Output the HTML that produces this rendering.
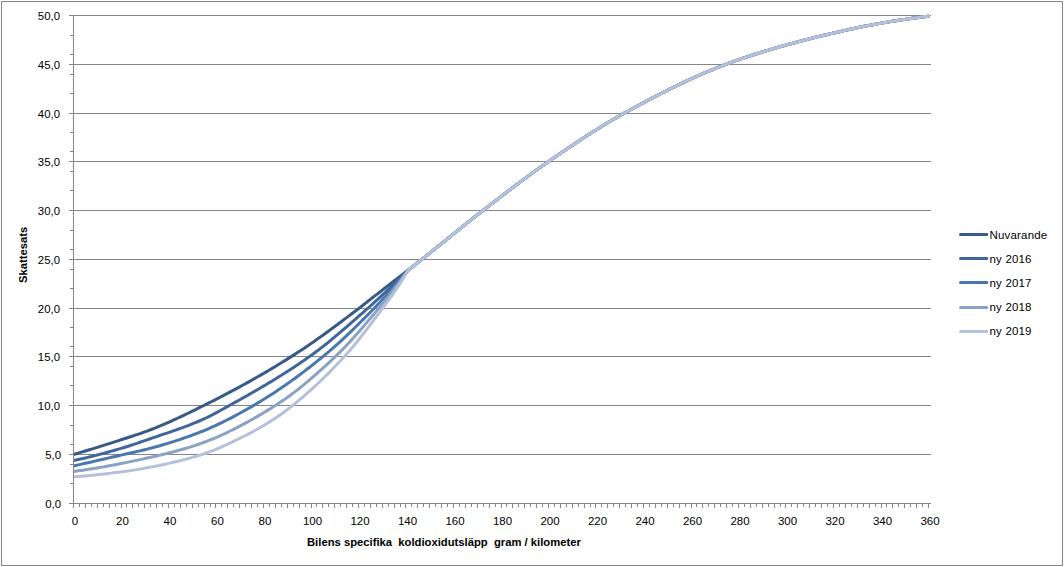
<!DOCTYPE html>
<html><head><meta charset="utf-8"><style>
html,body{margin:0;padding:0;background:#fff;}
body{width:1064px;height:567px;position:relative;overflow:hidden;font-family:"Liberation Sans",sans-serif;color:#000;}
svg{position:absolute;left:0;top:0;}
.yl{position:absolute;left:0;width:60px;text-align:right;font-size:11.4px;line-height:15px;height:15px;white-space:nowrap;}
.xl{position:absolute;top:514px;width:60px;text-align:center;font-size:11.5px;line-height:15px;white-space:nowrap;}
.lg{position:absolute;left:989.5px;font-size:11.5px;letter-spacing:0.18px;line-height:15px;white-space:nowrap;}
.xt{position:absolute;left:307px;top:535px;font-size:11.25px;font-weight:bold;line-height:15px;white-space:pre;}
.yt{position:absolute;left:17.1px;top:255.7px;font-size:11.25px;font-weight:bold;line-height:13px;white-space:nowrap;transform-origin:0 0;}
</style></head><body>
<svg width="1064" height="567" viewBox="0 0 1064 567">
<rect x="1.5" y="1.5" width="1061" height="564" fill="#fff" stroke="#868686" stroke-width="1"/>
<g stroke="#868686" stroke-width="1" shape-rendering="crispEdges"><line x1="69" y1="503.5" x2="931" y2="503.5"/><line x1="69" y1="454.5" x2="931" y2="454.5"/><line x1="69" y1="405.5" x2="931" y2="405.5"/><line x1="69" y1="356.5" x2="931" y2="356.5"/><line x1="69" y1="308.5" x2="931" y2="308.5"/><line x1="69" y1="259.5" x2="931" y2="259.5"/><line x1="69" y1="210.5" x2="931" y2="210.5"/><line x1="69" y1="161.5" x2="931" y2="161.5"/><line x1="69" y1="113.5" x2="931" y2="113.5"/><line x1="69" y1="64.5" x2="931" y2="64.5"/><line x1="69" y1="15.5" x2="931" y2="15.5"/>
<line x1="73.5" y1="15" x2="73.5" y2="508"/>
<line x1="70" y1="483.5" x2="73" y2="483.5"/><line x1="70" y1="464.5" x2="73" y2="464.5"/><line x1="70" y1="444.5" x2="73" y2="444.5"/><line x1="70" y1="425.5" x2="73" y2="425.5"/><line x1="70" y1="385.5" x2="73" y2="385.5"/><line x1="70" y1="366.5" x2="73" y2="366.5"/><line x1="70" y1="346.5" x2="73" y2="346.5"/><line x1="70" y1="327.5" x2="73" y2="327.5"/><line x1="70" y1="288.5" x2="73" y2="288.5"/><line x1="70" y1="269.5" x2="73" y2="269.5"/><line x1="70" y1="249.5" x2="73" y2="249.5"/><line x1="70" y1="230.5" x2="73" y2="230.5"/><line x1="70" y1="190.5" x2="73" y2="190.5"/><line x1="70" y1="171.5" x2="73" y2="171.5"/><line x1="70" y1="151.5" x2="73" y2="151.5"/><line x1="70" y1="132.5" x2="73" y2="132.5"/><line x1="70" y1="93.5" x2="73" y2="93.5"/><line x1="70" y1="74.5" x2="73" y2="74.5"/><line x1="70" y1="54.5" x2="73" y2="54.5"/><line x1="70" y1="35.5" x2="73" y2="35.5"/><line x1="73.5" y1="504" x2="73.5" y2="508"/><line x1="79.5" y1="504" x2="79.5" y2="507"/><line x1="85.5" y1="504" x2="85.5" y2="508"/><line x1="91.5" y1="504" x2="91.5" y2="507"/><line x1="97.5" y1="504" x2="97.5" y2="508"/><line x1="103.5" y1="504" x2="103.5" y2="507"/><line x1="109.5" y1="504" x2="109.5" y2="508"/><line x1="115.5" y1="504" x2="115.5" y2="507"/><line x1="121.5" y1="504" x2="121.5" y2="508"/><line x1="126.5" y1="504" x2="126.5" y2="507"/><line x1="132.5" y1="504" x2="132.5" y2="508"/><line x1="138.5" y1="504" x2="138.5" y2="507"/><line x1="144.5" y1="504" x2="144.5" y2="508"/><line x1="150.5" y1="504" x2="150.5" y2="507"/><line x1="156.5" y1="504" x2="156.5" y2="508"/><line x1="162.5" y1="504" x2="162.5" y2="507"/><line x1="168.5" y1="504" x2="168.5" y2="508"/><line x1="174.5" y1="504" x2="174.5" y2="507"/><line x1="180.5" y1="504" x2="180.5" y2="508"/><line x1="186.5" y1="504" x2="186.5" y2="507"/><line x1="192.5" y1="504" x2="192.5" y2="508"/><line x1="198.5" y1="504" x2="198.5" y2="507"/><line x1="204.5" y1="504" x2="204.5" y2="508"/><line x1="210.5" y1="504" x2="210.5" y2="507"/><line x1="215.5" y1="504" x2="215.5" y2="508"/><line x1="221.5" y1="504" x2="221.5" y2="507"/><line x1="227.5" y1="504" x2="227.5" y2="508"/><line x1="233.5" y1="504" x2="233.5" y2="507"/><line x1="239.5" y1="504" x2="239.5" y2="508"/><line x1="245.5" y1="504" x2="245.5" y2="507"/><line x1="251.5" y1="504" x2="251.5" y2="508"/><line x1="257.5" y1="504" x2="257.5" y2="507"/><line x1="263.5" y1="504" x2="263.5" y2="508"/><line x1="269.5" y1="504" x2="269.5" y2="507"/><line x1="275.5" y1="504" x2="275.5" y2="508"/><line x1="281.5" y1="504" x2="281.5" y2="507"/><line x1="287.5" y1="504" x2="287.5" y2="508"/><line x1="293.5" y1="504" x2="293.5" y2="507"/><line x1="299.5" y1="504" x2="299.5" y2="508"/><line x1="305.5" y1="504" x2="305.5" y2="507"/><line x1="311.5" y1="504" x2="311.5" y2="508"/><line x1="316.5" y1="504" x2="316.5" y2="507"/><line x1="322.5" y1="504" x2="322.5" y2="508"/><line x1="328.5" y1="504" x2="328.5" y2="507"/><line x1="334.5" y1="504" x2="334.5" y2="508"/><line x1="340.5" y1="504" x2="340.5" y2="507"/><line x1="346.5" y1="504" x2="346.5" y2="508"/><line x1="352.5" y1="504" x2="352.5" y2="507"/><line x1="358.5" y1="504" x2="358.5" y2="508"/><line x1="364.5" y1="504" x2="364.5" y2="507"/><line x1="370.5" y1="504" x2="370.5" y2="508"/><line x1="376.5" y1="504" x2="376.5" y2="507"/><line x1="382.5" y1="504" x2="382.5" y2="508"/><line x1="388.5" y1="504" x2="388.5" y2="507"/><line x1="394.5" y1="504" x2="394.5" y2="508"/><line x1="400.5" y1="504" x2="400.5" y2="507"/><line x1="405.5" y1="504" x2="405.5" y2="508"/><line x1="411.5" y1="504" x2="411.5" y2="507"/><line x1="417.5" y1="504" x2="417.5" y2="508"/><line x1="423.5" y1="504" x2="423.5" y2="507"/><line x1="429.5" y1="504" x2="429.5" y2="508"/><line x1="435.5" y1="504" x2="435.5" y2="507"/><line x1="441.5" y1="504" x2="441.5" y2="508"/><line x1="447.5" y1="504" x2="447.5" y2="507"/><line x1="453.5" y1="504" x2="453.5" y2="508"/><line x1="459.5" y1="504" x2="459.5" y2="507"/><line x1="465.5" y1="504" x2="465.5" y2="508"/><line x1="471.5" y1="504" x2="471.5" y2="507"/><line x1="477.5" y1="504" x2="477.5" y2="508"/><line x1="483.5" y1="504" x2="483.5" y2="507"/><line x1="489.5" y1="504" x2="489.5" y2="508"/><line x1="495.5" y1="504" x2="495.5" y2="507"/><line x1="501.5" y1="504" x2="501.5" y2="508"/><line x1="506.5" y1="504" x2="506.5" y2="507"/><line x1="512.5" y1="504" x2="512.5" y2="508"/><line x1="518.5" y1="504" x2="518.5" y2="507"/><line x1="524.5" y1="504" x2="524.5" y2="508"/><line x1="530.5" y1="504" x2="530.5" y2="507"/><line x1="536.5" y1="504" x2="536.5" y2="508"/><line x1="542.5" y1="504" x2="542.5" y2="507"/><line x1="548.5" y1="504" x2="548.5" y2="508"/><line x1="554.5" y1="504" x2="554.5" y2="507"/><line x1="560.5" y1="504" x2="560.5" y2="508"/><line x1="566.5" y1="504" x2="566.5" y2="507"/><line x1="572.5" y1="504" x2="572.5" y2="508"/><line x1="578.5" y1="504" x2="578.5" y2="507"/><line x1="584.5" y1="504" x2="584.5" y2="508"/><line x1="590.5" y1="504" x2="590.5" y2="507"/><line x1="595.5" y1="504" x2="595.5" y2="508"/><line x1="601.5" y1="504" x2="601.5" y2="507"/><line x1="607.5" y1="504" x2="607.5" y2="508"/><line x1="613.5" y1="504" x2="613.5" y2="507"/><line x1="619.5" y1="504" x2="619.5" y2="508"/><line x1="625.5" y1="504" x2="625.5" y2="507"/><line x1="631.5" y1="504" x2="631.5" y2="508"/><line x1="637.5" y1="504" x2="637.5" y2="507"/><line x1="643.5" y1="504" x2="643.5" y2="508"/><line x1="649.5" y1="504" x2="649.5" y2="507"/><line x1="655.5" y1="504" x2="655.5" y2="508"/><line x1="661.5" y1="504" x2="661.5" y2="507"/><line x1="667.5" y1="504" x2="667.5" y2="508"/><line x1="673.5" y1="504" x2="673.5" y2="507"/><line x1="679.5" y1="504" x2="679.5" y2="508"/><line x1="685.5" y1="504" x2="685.5" y2="507"/><line x1="691.5" y1="504" x2="691.5" y2="508"/><line x1="696.5" y1="504" x2="696.5" y2="507"/><line x1="702.5" y1="504" x2="702.5" y2="508"/><line x1="708.5" y1="504" x2="708.5" y2="507"/><line x1="714.5" y1="504" x2="714.5" y2="508"/><line x1="720.5" y1="504" x2="720.5" y2="507"/><line x1="726.5" y1="504" x2="726.5" y2="508"/><line x1="732.5" y1="504" x2="732.5" y2="507"/><line x1="738.5" y1="504" x2="738.5" y2="508"/><line x1="744.5" y1="504" x2="744.5" y2="507"/><line x1="750.5" y1="504" x2="750.5" y2="508"/><line x1="756.5" y1="504" x2="756.5" y2="507"/><line x1="762.5" y1="504" x2="762.5" y2="508"/><line x1="768.5" y1="504" x2="768.5" y2="507"/><line x1="774.5" y1="504" x2="774.5" y2="508"/><line x1="780.5" y1="504" x2="780.5" y2="507"/><line x1="785.5" y1="504" x2="785.5" y2="508"/><line x1="791.5" y1="504" x2="791.5" y2="507"/><line x1="797.5" y1="504" x2="797.5" y2="508"/><line x1="803.5" y1="504" x2="803.5" y2="507"/><line x1="809.5" y1="504" x2="809.5" y2="508"/><line x1="815.5" y1="504" x2="815.5" y2="507"/><line x1="821.5" y1="504" x2="821.5" y2="508"/><line x1="827.5" y1="504" x2="827.5" y2="507"/><line x1="833.5" y1="504" x2="833.5" y2="508"/><line x1="839.5" y1="504" x2="839.5" y2="507"/><line x1="845.5" y1="504" x2="845.5" y2="508"/><line x1="851.5" y1="504" x2="851.5" y2="507"/><line x1="857.5" y1="504" x2="857.5" y2="508"/><line x1="863.5" y1="504" x2="863.5" y2="507"/><line x1="869.5" y1="504" x2="869.5" y2="508"/><line x1="875.5" y1="504" x2="875.5" y2="507"/><line x1="881.5" y1="504" x2="881.5" y2="508"/><line x1="886.5" y1="504" x2="886.5" y2="507"/><line x1="892.5" y1="504" x2="892.5" y2="508"/><line x1="898.5" y1="504" x2="898.5" y2="507"/><line x1="904.5" y1="504" x2="904.5" y2="508"/><line x1="910.5" y1="504" x2="910.5" y2="507"/><line x1="916.5" y1="504" x2="916.5" y2="508"/><line x1="922.5" y1="504" x2="922.5" y2="507"/><line x1="928.5" y1="504" x2="928.5" y2="508"/></g>
<defs><clipPath id="pc"><rect x="74" y="0" width="990" height="567"/></clipPath></defs>
<g fill="none" stroke-width="3" stroke-linejoin="round" stroke-linecap="round" clip-path="url(#pc)">
<path d="M73.50,454.50 L75.88,453.80 L78.25,453.11 L80.62,452.40 L83.00,451.69 L85.38,450.98 L87.75,450.26 L90.12,449.54 L92.50,448.81 L94.88,448.08 L97.25,447.34 L99.62,446.61 L102.00,445.86 L104.38,445.12 L106.75,444.37 L109.12,443.61 L111.50,442.86 L113.88,442.10 L116.25,441.33 L118.62,440.57 L121.00,439.80 L123.38,439.03 L125.75,438.27 L128.12,437.50 L130.50,436.74 L132.88,435.97 L135.25,435.19 L137.62,434.40 L140.00,433.59 L142.38,432.77 L144.75,431.93 L147.12,431.07 L149.50,430.18 L151.88,429.27 L154.25,428.33 L156.62,427.38 L159.00,426.40 L161.38,425.41 L163.75,424.40 L166.12,423.37 L168.50,422.32 L170.88,421.27 L173.25,420.19 L175.62,419.11 L178.00,418.01 L180.38,416.90 L182.75,415.78 L185.12,414.65 L187.50,413.50 L189.88,412.36 L192.25,411.20 L194.62,410.04 L197.00,408.87 L199.38,407.69 L201.75,406.52 L204.12,405.33 L206.50,404.15 L208.88,402.96 L211.25,401.76 L213.62,400.55 L216.00,399.34 L218.38,398.12 L220.75,396.90 L223.12,395.66 L225.50,394.42 L227.88,393.18 L230.25,391.92 L232.62,390.66 L235.00,389.39 L237.38,388.11 L239.75,386.82 L242.12,385.53 L244.50,384.22 L246.88,382.91 L249.25,381.59 L251.62,380.26 L254.00,378.92 L256.38,377.57 L258.75,376.22 L261.12,374.85 L263.50,373.47 L265.88,372.08 L268.25,370.69 L270.62,369.28 L273.00,367.86 L275.38,366.43 L277.75,364.99 L280.12,363.54 L282.50,362.08 L284.88,360.61 L287.25,359.12 L289.62,357.63 L292.00,356.13 L294.38,354.63 L296.75,353.11 L299.12,351.57 L301.50,350.01 L303.88,348.43 L306.25,346.83 L308.62,345.21 L311.00,343.57 L313.38,341.92 L315.75,340.25 L318.12,338.57 L320.50,336.87 L322.88,335.16 L325.25,333.45 L327.62,331.72 L330.00,329.98 L332.38,328.23 L334.75,326.48 L337.12,324.72 L339.50,322.95 L341.88,321.18 L344.25,319.40 L346.62,317.63 L349.00,315.85 L351.38,314.07 L353.75,312.29 L356.12,310.51 L358.50,308.73 L360.88,306.91 L363.25,305.05 L365.62,303.16 L368.00,301.27 L370.38,299.38 L372.75,297.51 L375.12,295.66 L377.50,293.81 L379.88,291.96 L382.25,290.11 L384.62,288.26 L387.00,286.42 L389.38,284.58 L391.75,282.74 L394.12,280.91 L396.50,279.08 L398.88,277.25 L401.25,275.43 L403.62,273.61 L406.00,271.80 L408.38,269.99 L410.75,268.12 L413.12,266.25 L415.50,264.38 L417.88,262.51 L420.25,260.63 L422.62,258.75 L425.00,256.86 L427.38,254.96 L429.75,253.06 L432.12,251.15 L434.50,249.24 L436.88,247.33 L439.25,245.41 L441.62,243.49 L444.00,241.57 L446.38,239.65 L448.75,237.73 L451.12,235.81 L453.50,233.89 L455.88,231.97 L458.25,230.06 L460.62,228.15 L463.00,226.24 L465.38,224.34 L467.75,222.45 L470.12,220.56 L472.50,218.68 L474.88,216.80 L477.25,214.94 L479.62,213.08 L482.00,211.24 L484.38,209.40 L486.75,207.56 L489.12,205.73 L491.50,203.89 L493.88,202.06 L496.25,200.23 L498.62,198.41 L501.00,196.58 L503.38,194.76 L505.75,192.95 L508.12,191.14 L510.50,189.33 L512.88,187.53 L515.25,185.73 L517.62,183.95 L520.00,182.17 L522.38,180.39 L524.75,178.63 L527.12,176.87 L529.50,175.12 L531.88,173.38 L534.25,171.65 L536.62,169.93 L539.00,168.22 L541.38,166.52 L543.75,164.84 L546.12,163.16 L548.50,161.50 L550.88,159.88 L553.25,158.26 L555.62,156.64 L558.00,155.02 L560.38,153.41 L562.75,151.79 L565.12,150.18 L567.50,148.58 L569.88,146.98 L572.25,145.39 L574.62,143.80 L577.00,142.22 L579.38,140.65 L581.75,139.09 L584.12,137.53 L586.50,135.99 L588.88,134.45 L591.25,132.93 L593.62,131.42 L596.00,129.92 L598.38,128.43 L600.75,126.96 L603.12,125.50 L605.50,124.05 L607.88,122.63 L610.25,121.21 L612.62,119.82 L615.00,118.44 L617.38,117.08 L619.75,115.74 L622.12,114.41 L624.50,113.10 L626.88,111.78 L629.25,110.47 L631.62,109.16 L634.00,107.85 L636.38,106.56 L638.75,105.27 L641.12,103.98 L643.50,102.71 L645.88,101.44 L648.25,100.17 L650.62,98.92 L653.00,97.67 L655.38,96.43 L657.75,95.20 L660.12,93.98 L662.50,92.77 L664.88,91.56 L667.25,90.37 L669.62,89.18 L672.00,88.00 L674.38,86.84 L676.75,85.68 L679.12,84.53 L681.50,83.40 L683.88,82.27 L686.25,81.15 L688.62,80.05 L691.00,78.96 L693.38,77.87 L695.75,76.80 L698.12,75.75 L700.50,74.70 L702.88,73.67 L705.25,72.65 L707.62,71.64 L710.00,70.64 L712.38,69.66 L714.75,68.69 L717.12,67.73 L719.50,66.79 L721.88,65.86 L724.25,64.95 L726.62,64.05 L729.00,63.17 L731.38,62.30 L733.75,61.44 L736.12,60.59 L738.50,59.76 L740.88,58.94 L743.25,58.13 L745.62,57.33 L748.00,56.54 L750.38,55.76 L752.75,54.99 L755.12,54.24 L757.50,53.49 L759.88,52.75 L762.25,52.02 L764.62,51.29 L767.00,50.58 L769.38,49.87 L771.75,49.16 L774.12,48.47 L776.50,47.78 L778.88,47.09 L781.25,46.41 L783.62,45.74 L786.00,45.07 L788.38,44.40 L790.75,43.75 L793.12,43.09 L795.50,42.45 L797.88,41.82 L800.25,41.19 L802.62,40.57 L805.00,39.95 L807.38,39.34 L809.75,38.74 L812.12,38.14 L814.50,37.56 L816.88,36.97 L819.25,36.40 L821.62,35.82 L824.00,35.26 L826.38,34.70 L828.75,34.15 L831.12,33.60 L833.50,33.05 L835.88,32.51 L838.25,31.97 L840.62,31.44 L843.00,30.91 L845.38,30.38 L847.75,29.85 L850.12,29.33 L852.50,28.81 L854.88,28.30 L857.25,27.80 L859.62,27.30 L862.00,26.81 L864.38,26.32 L866.75,25.85 L869.12,25.38 L871.50,24.93 L873.88,24.48 L876.25,24.04 L878.62,23.62 L881.00,23.20 L883.38,22.79 L885.75,22.39 L888.12,21.99 L890.50,21.60 L892.88,21.21 L895.25,20.83 L897.62,20.46 L900.00,20.09 L902.38,19.73 L904.75,19.37 L907.12,19.02 L909.50,18.67 L911.88,18.34 L914.25,18.01 L916.62,17.68 L919.00,17.37 L921.38,17.06 L923.75,16.76 L926.12,16.47 L928.50,16.19" stroke="#375A87"/>
<path d="M73.50,460.58 L75.88,460.07 L78.25,459.56 L80.62,459.03 L83.00,458.49 L85.38,457.93 L87.75,457.37 L90.12,456.79 L92.50,456.20 L94.88,455.60 L97.25,454.99 L99.62,454.37 L102.00,453.75 L104.38,453.11 L106.75,452.46 L109.12,451.81 L111.50,451.14 L113.88,450.47 L116.25,449.80 L118.62,449.11 L121.00,448.42 L123.38,447.72 L125.75,446.99 L128.12,446.24 L130.50,445.47 L132.88,444.69 L135.25,443.89 L137.62,443.09 L140.00,442.27 L142.38,441.45 L144.75,440.63 L147.12,439.81 L149.50,438.98 L151.88,438.17 L154.25,437.36 L156.62,436.55 L159.00,435.75 L161.38,434.95 L163.75,434.16 L166.12,433.36 L168.50,432.55 L170.88,431.74 L173.25,430.93 L175.62,430.10 L178.00,429.27 L180.38,428.42 L182.75,427.56 L185.12,426.68 L187.50,425.79 L189.88,424.87 L192.25,423.94 L194.62,422.98 L197.00,422.00 L199.38,421.00 L201.75,419.96 L204.12,418.87 L206.50,417.74 L208.88,416.57 L211.25,415.36 L213.62,414.13 L216.00,412.87 L218.38,411.59 L220.75,410.29 L223.12,408.98 L225.50,407.66 L227.88,406.34 L230.25,405.03 L232.62,403.71 L235.00,402.39 L237.38,401.07 L239.75,399.74 L242.12,398.41 L244.50,397.07 L246.88,395.73 L249.25,394.39 L251.62,393.03 L254.00,391.67 L256.38,390.30 L258.75,388.93 L261.12,387.54 L263.50,386.15 L265.88,384.75 L268.25,383.33 L270.62,381.91 L273.00,380.47 L275.38,379.02 L277.75,377.56 L280.12,376.08 L282.50,374.59 L284.88,373.09 L287.25,371.57 L289.62,370.04 L292.00,368.49 L294.38,366.92 L296.75,365.33 L299.12,363.73 L301.50,362.11 L303.88,360.47 L306.25,358.81 L308.62,357.13 L311.00,355.44 L313.38,353.74 L315.75,351.99 L318.12,350.22 L320.50,348.41 L322.88,346.57 L325.25,344.70 L327.62,342.80 L330.00,340.88 L332.38,338.93 L334.75,336.96 L337.12,334.97 L339.50,332.97 L341.88,330.95 L344.25,328.91 L346.62,326.86 L349.00,324.80 L351.38,322.73 L353.75,320.65 L356.12,318.57 L358.50,316.49 L360.88,314.40 L363.25,312.31 L365.62,310.23 L368.00,308.14 L370.38,306.00 L372.75,303.85 L375.12,301.69 L377.50,299.51 L379.88,297.31 L382.25,295.10 L384.62,292.88 L387.00,290.64 L389.38,288.39 L391.75,286.13 L394.12,283.86 L396.50,281.57 L398.88,279.28 L401.25,276.97 L403.62,274.65 L406.00,272.32 L408.38,269.99 L410.75,268.12 L413.12,266.25 L415.50,264.38 L417.88,262.51 L420.25,260.63 L422.62,258.75 L425.00,256.86 L427.38,254.96 L429.75,253.06 L432.12,251.15 L434.50,249.24 L436.88,247.33 L439.25,245.41 L441.62,243.49 L444.00,241.57 L446.38,239.65 L448.75,237.73 L451.12,235.81 L453.50,233.89 L455.88,231.97 L458.25,230.06 L460.62,228.15 L463.00,226.24 L465.38,224.34 L467.75,222.45 L470.12,220.56 L472.50,218.68 L474.88,216.80 L477.25,214.94 L479.62,213.08 L482.00,211.24 L484.38,209.40 L486.75,207.56 L489.12,205.73 L491.50,203.89 L493.88,202.06 L496.25,200.23 L498.62,198.41 L501.00,196.58 L503.38,194.76 L505.75,192.95 L508.12,191.14 L510.50,189.33 L512.88,187.53 L515.25,185.73 L517.62,183.95 L520.00,182.17 L522.38,180.39 L524.75,178.63 L527.12,176.87 L529.50,175.12 L531.88,173.38 L534.25,171.65 L536.62,169.93 L539.00,168.22 L541.38,166.52 L543.75,164.84 L546.12,163.16 L548.50,161.50 L550.88,159.88 L553.25,158.26 L555.62,156.64 L558.00,155.02 L560.38,153.41 L562.75,151.79 L565.12,150.18 L567.50,148.58 L569.88,146.98 L572.25,145.39 L574.62,143.80 L577.00,142.22 L579.38,140.65 L581.75,139.09 L584.12,137.53 L586.50,135.99 L588.88,134.45 L591.25,132.93 L593.62,131.42 L596.00,129.92 L598.38,128.43 L600.75,126.96 L603.12,125.50 L605.50,124.05 L607.88,122.63 L610.25,121.21 L612.62,119.82 L615.00,118.44 L617.38,117.08 L619.75,115.74 L622.12,114.41 L624.50,113.10 L626.88,111.78 L629.25,110.47 L631.62,109.16 L634.00,107.85 L636.38,106.56 L638.75,105.27 L641.12,103.98 L643.50,102.71 L645.88,101.44 L648.25,100.17 L650.62,98.92 L653.00,97.67 L655.38,96.43 L657.75,95.20 L660.12,93.98 L662.50,92.77 L664.88,91.56 L667.25,90.37 L669.62,89.18 L672.00,88.00 L674.38,86.84 L676.75,85.68 L679.12,84.53 L681.50,83.40 L683.88,82.27 L686.25,81.15 L688.62,80.05 L691.00,78.96 L693.38,77.87 L695.75,76.80 L698.12,75.75 L700.50,74.70 L702.88,73.67 L705.25,72.65 L707.62,71.64 L710.00,70.64 L712.38,69.66 L714.75,68.69 L717.12,67.73 L719.50,66.79 L721.88,65.86 L724.25,64.95 L726.62,64.05 L729.00,63.17 L731.38,62.30 L733.75,61.44 L736.12,60.59 L738.50,59.76 L740.88,58.94 L743.25,58.13 L745.62,57.33 L748.00,56.54 L750.38,55.76 L752.75,54.99 L755.12,54.24 L757.50,53.49 L759.88,52.75 L762.25,52.02 L764.62,51.29 L767.00,50.58 L769.38,49.87 L771.75,49.16 L774.12,48.47 L776.50,47.78 L778.88,47.09 L781.25,46.41 L783.62,45.74 L786.00,45.07 L788.38,44.40 L790.75,43.75 L793.12,43.09 L795.50,42.45 L797.88,41.82 L800.25,41.19 L802.62,40.57 L805.00,39.95 L807.38,39.34 L809.75,38.74 L812.12,38.14 L814.50,37.56 L816.88,36.97 L819.25,36.40 L821.62,35.82 L824.00,35.26 L826.38,34.70 L828.75,34.15 L831.12,33.60 L833.50,33.05 L835.88,32.51 L838.25,31.97 L840.62,31.44 L843.00,30.91 L845.38,30.38 L847.75,29.85 L850.12,29.33 L852.50,28.81 L854.88,28.30 L857.25,27.80 L859.62,27.30 L862.00,26.81 L864.38,26.32 L866.75,25.85 L869.12,25.38 L871.50,24.93 L873.88,24.48 L876.25,24.04 L878.62,23.62 L881.00,23.20 L883.38,22.79 L885.75,22.39 L888.12,21.99 L890.50,21.60 L892.88,21.21 L895.25,20.83 L897.62,20.46 L900.00,20.09 L902.38,19.73 L904.75,19.37 L907.12,19.02 L909.50,18.67 L911.88,18.34 L914.25,18.01 L916.62,17.68 L919.00,17.37 L921.38,17.06 L923.75,16.76 L926.12,16.47 L928.50,16.19" stroke="#40669A"/>
<path d="M73.50,465.97 L75.88,465.43 L78.25,464.90 L80.62,464.36 L83.00,463.82 L85.38,463.28 L87.75,462.74 L90.12,462.21 L92.50,461.67 L94.88,461.13 L97.25,460.58 L99.62,460.04 L102.00,459.50 L104.38,458.96 L106.75,458.41 L109.12,457.87 L111.50,457.33 L113.88,456.78 L116.25,456.24 L118.62,455.69 L121.00,455.14 L123.38,454.60 L125.75,454.06 L128.12,453.52 L130.50,453.00 L132.88,452.47 L135.25,451.94 L137.62,451.41 L140.00,450.87 L142.38,450.32 L144.75,449.75 L147.12,449.16 L149.50,448.55 L151.88,447.91 L154.25,447.27 L156.62,446.61 L159.00,445.94 L161.38,445.26 L163.75,444.56 L166.12,443.85 L168.50,443.13 L170.88,442.40 L173.25,441.65 L175.62,440.89 L178.00,440.11 L180.38,439.32 L182.75,438.52 L185.12,437.70 L187.50,436.86 L189.88,436.01 L192.25,435.14 L194.62,434.25 L197.00,433.35 L199.38,432.43 L201.75,431.50 L204.12,430.53 L206.50,429.54 L208.88,428.52 L211.25,427.48 L213.62,426.41 L216.00,425.32 L218.38,424.21 L220.75,423.07 L223.12,421.91 L225.50,420.73 L227.88,419.53 L230.25,418.31 L232.62,417.08 L235.00,415.82 L237.38,414.55 L239.75,413.26 L242.12,411.95 L244.50,410.63 L246.88,409.30 L249.25,407.95 L251.62,406.58 L254.00,405.21 L256.38,403.82 L258.75,402.40 L261.12,400.96 L263.50,399.51 L265.88,398.03 L268.25,396.53 L270.62,395.01 L273.00,393.46 L275.38,391.90 L277.75,390.32 L280.12,388.71 L282.50,387.09 L284.88,385.45 L287.25,383.78 L289.62,382.10 L292.00,380.40 L294.38,378.68 L296.75,376.94 L299.12,375.18 L301.50,373.40 L303.88,371.61 L306.25,369.79 L308.62,367.96 L311.00,366.11 L313.38,364.24 L315.75,362.36 L318.12,360.45 L320.50,358.53 L322.88,356.60 L325.25,354.67 L327.62,352.70 L330.00,350.69 L332.38,348.64 L334.75,346.56 L337.12,344.44 L339.50,342.29 L341.88,340.11 L344.25,337.90 L346.62,335.66 L349.00,333.40 L351.38,331.11 L353.75,328.80 L356.12,326.47 L358.50,324.13 L360.88,321.77 L363.25,319.39 L365.62,317.00 L368.00,314.60 L370.38,312.20 L372.75,309.78 L375.12,307.34 L377.50,304.84 L379.88,302.31 L382.25,299.75 L384.62,297.16 L387.00,294.55 L389.38,291.90 L391.75,289.24 L394.12,286.55 L396.50,283.84 L398.88,281.11 L401.25,278.35 L403.62,275.58 L406.00,272.79 L408.38,269.99 L410.75,268.12 L413.12,266.25 L415.50,264.38 L417.88,262.51 L420.25,260.63 L422.62,258.75 L425.00,256.86 L427.38,254.96 L429.75,253.06 L432.12,251.15 L434.50,249.24 L436.88,247.33 L439.25,245.41 L441.62,243.49 L444.00,241.57 L446.38,239.65 L448.75,237.73 L451.12,235.81 L453.50,233.89 L455.88,231.97 L458.25,230.06 L460.62,228.15 L463.00,226.24 L465.38,224.34 L467.75,222.45 L470.12,220.56 L472.50,218.68 L474.88,216.80 L477.25,214.94 L479.62,213.08 L482.00,211.24 L484.38,209.40 L486.75,207.56 L489.12,205.73 L491.50,203.89 L493.88,202.06 L496.25,200.23 L498.62,198.41 L501.00,196.58 L503.38,194.76 L505.75,192.95 L508.12,191.14 L510.50,189.33 L512.88,187.53 L515.25,185.73 L517.62,183.95 L520.00,182.17 L522.38,180.39 L524.75,178.63 L527.12,176.87 L529.50,175.12 L531.88,173.38 L534.25,171.65 L536.62,169.93 L539.00,168.22 L541.38,166.52 L543.75,164.84 L546.12,163.16 L548.50,161.50 L550.88,159.88 L553.25,158.26 L555.62,156.64 L558.00,155.02 L560.38,153.41 L562.75,151.79 L565.12,150.18 L567.50,148.58 L569.88,146.98 L572.25,145.39 L574.62,143.80 L577.00,142.22 L579.38,140.65 L581.75,139.09 L584.12,137.53 L586.50,135.99 L588.88,134.45 L591.25,132.93 L593.62,131.42 L596.00,129.92 L598.38,128.43 L600.75,126.96 L603.12,125.50 L605.50,124.05 L607.88,122.63 L610.25,121.21 L612.62,119.82 L615.00,118.44 L617.38,117.08 L619.75,115.74 L622.12,114.41 L624.50,113.10 L626.88,111.78 L629.25,110.47 L631.62,109.16 L634.00,107.85 L636.38,106.56 L638.75,105.27 L641.12,103.98 L643.50,102.71 L645.88,101.44 L648.25,100.17 L650.62,98.92 L653.00,97.67 L655.38,96.43 L657.75,95.20 L660.12,93.98 L662.50,92.77 L664.88,91.56 L667.25,90.37 L669.62,89.18 L672.00,88.00 L674.38,86.84 L676.75,85.68 L679.12,84.53 L681.50,83.40 L683.88,82.27 L686.25,81.15 L688.62,80.05 L691.00,78.96 L693.38,77.87 L695.75,76.80 L698.12,75.75 L700.50,74.70 L702.88,73.67 L705.25,72.65 L707.62,71.64 L710.00,70.64 L712.38,69.66 L714.75,68.69 L717.12,67.73 L719.50,66.79 L721.88,65.86 L724.25,64.95 L726.62,64.05 L729.00,63.17 L731.38,62.30 L733.75,61.44 L736.12,60.59 L738.50,59.76 L740.88,58.94 L743.25,58.13 L745.62,57.33 L748.00,56.54 L750.38,55.76 L752.75,54.99 L755.12,54.24 L757.50,53.49 L759.88,52.75 L762.25,52.02 L764.62,51.29 L767.00,50.58 L769.38,49.87 L771.75,49.16 L774.12,48.47 L776.50,47.78 L778.88,47.09 L781.25,46.41 L783.62,45.74 L786.00,45.07 L788.38,44.40 L790.75,43.75 L793.12,43.09 L795.50,42.45 L797.88,41.82 L800.25,41.19 L802.62,40.57 L805.00,39.95 L807.38,39.34 L809.75,38.74 L812.12,38.14 L814.50,37.56 L816.88,36.97 L819.25,36.40 L821.62,35.82 L824.00,35.26 L826.38,34.70 L828.75,34.15 L831.12,33.60 L833.50,33.05 L835.88,32.51 L838.25,31.97 L840.62,31.44 L843.00,30.91 L845.38,30.38 L847.75,29.85 L850.12,29.33 L852.50,28.81 L854.88,28.30 L857.25,27.80 L859.62,27.30 L862.00,26.81 L864.38,26.32 L866.75,25.85 L869.12,25.38 L871.50,24.93 L873.88,24.48 L876.25,24.04 L878.62,23.62 L881.00,23.20 L883.38,22.79 L885.75,22.39 L888.12,21.99 L890.50,21.60 L892.88,21.21 L895.25,20.83 L897.62,20.46 L900.00,20.09 L902.38,19.73 L904.75,19.37 L907.12,19.02 L909.50,18.67 L911.88,18.34 L914.25,18.01 L916.62,17.68 L919.00,17.37 L921.38,17.06 L923.75,16.76 L926.12,16.47 L928.50,16.19" stroke="#4977AE"/>
<path d="M73.50,471.45 L75.88,471.14 L78.25,470.82 L80.62,470.49 L83.00,470.15 L85.38,469.80 L87.75,469.44 L90.12,469.08 L92.50,468.70 L94.88,468.31 L97.25,467.92 L99.62,467.52 L102.00,467.11 L104.38,466.69 L106.75,466.26 L109.12,465.83 L111.50,465.39 L113.88,464.94 L116.25,464.49 L118.62,464.03 L121.00,463.56 L123.38,463.09 L125.75,462.61 L128.12,462.13 L130.50,461.64 L132.88,461.14 L135.25,460.64 L137.62,460.14 L140.00,459.63 L142.38,459.11 L144.75,458.59 L147.12,458.07 L149.50,457.55 L151.88,457.02 L154.25,456.48 L156.62,455.93 L159.00,455.38 L161.38,454.82 L163.75,454.25 L166.12,453.66 L168.50,453.07 L170.88,452.46 L173.25,451.84 L175.62,451.21 L178.00,450.56 L180.38,449.90 L182.75,449.22 L185.12,448.53 L187.50,447.82 L189.88,447.09 L192.25,446.34 L194.62,445.57 L197.00,444.78 L199.38,443.97 L201.75,443.13 L204.12,442.27 L206.50,441.38 L208.88,440.46 L211.25,439.51 L213.62,438.54 L216.00,437.54 L218.38,436.51 L220.75,435.46 L223.12,434.38 L225.50,433.28 L227.88,432.16 L230.25,431.01 L232.62,429.84 L235.00,428.65 L237.38,427.43 L239.75,426.20 L242.12,424.94 L244.50,423.66 L246.88,422.37 L249.25,421.05 L251.62,419.72 L254.00,418.37 L256.38,416.99 L258.75,415.61 L261.12,414.20 L263.50,412.78 L265.88,411.35 L268.25,409.89 L270.62,408.43 L273.00,406.95 L275.38,405.45 L277.75,403.93 L280.12,402.37 L282.50,400.76 L284.88,399.12 L287.25,397.44 L289.62,395.72 L292.00,393.96 L294.38,392.17 L296.75,390.34 L299.12,388.48 L301.50,386.58 L303.88,384.66 L306.25,382.70 L308.62,380.71 L311.00,378.69 L313.38,376.65 L315.75,374.57 L318.12,372.47 L320.50,370.35 L322.88,368.20 L325.25,366.03 L327.62,363.83 L330.00,361.61 L332.38,359.37 L334.75,357.11 L337.12,354.86 L339.50,352.55 L341.88,350.17 L344.25,347.74 L346.62,345.25 L349.00,342.71 L351.38,340.13 L353.75,337.50 L356.12,334.84 L358.50,332.14 L360.88,329.41 L363.25,326.65 L365.62,323.87 L368.00,321.08 L370.38,318.27 L372.75,315.45 L375.12,312.62 L377.50,309.80 L379.88,306.94 L382.25,304.02 L384.62,301.07 L387.00,298.08 L389.38,295.07 L391.75,292.02 L394.12,288.95 L396.50,285.85 L398.88,282.72 L401.25,279.57 L403.62,276.40 L406.00,273.20 L408.38,269.99 L410.75,268.12 L413.12,266.25 L415.50,264.38 L417.88,262.51 L420.25,260.63 L422.62,258.75 L425.00,256.86 L427.38,254.96 L429.75,253.06 L432.12,251.15 L434.50,249.24 L436.88,247.33 L439.25,245.41 L441.62,243.49 L444.00,241.57 L446.38,239.65 L448.75,237.73 L451.12,235.81 L453.50,233.89 L455.88,231.97 L458.25,230.06 L460.62,228.15 L463.00,226.24 L465.38,224.34 L467.75,222.45 L470.12,220.56 L472.50,218.68 L474.88,216.80 L477.25,214.94 L479.62,213.08 L482.00,211.24 L484.38,209.40 L486.75,207.56 L489.12,205.73 L491.50,203.89 L493.88,202.06 L496.25,200.23 L498.62,198.41 L501.00,196.58 L503.38,194.76 L505.75,192.95 L508.12,191.14 L510.50,189.33 L512.88,187.53 L515.25,185.73 L517.62,183.95 L520.00,182.17 L522.38,180.39 L524.75,178.63 L527.12,176.87 L529.50,175.12 L531.88,173.38 L534.25,171.65 L536.62,169.93 L539.00,168.22 L541.38,166.52 L543.75,164.84 L546.12,163.16 L548.50,161.50 L550.88,159.88 L553.25,158.26 L555.62,156.64 L558.00,155.02 L560.38,153.41 L562.75,151.79 L565.12,150.18 L567.50,148.58 L569.88,146.98 L572.25,145.39 L574.62,143.80 L577.00,142.22 L579.38,140.65 L581.75,139.09 L584.12,137.53 L586.50,135.99 L588.88,134.45 L591.25,132.93 L593.62,131.42 L596.00,129.92 L598.38,128.43 L600.75,126.96 L603.12,125.50 L605.50,124.05 L607.88,122.63 L610.25,121.21 L612.62,119.82 L615.00,118.44 L617.38,117.08 L619.75,115.74 L622.12,114.41 L624.50,113.10 L626.88,111.78 L629.25,110.47 L631.62,109.16 L634.00,107.85 L636.38,106.56 L638.75,105.27 L641.12,103.98 L643.50,102.71 L645.88,101.44 L648.25,100.17 L650.62,98.92 L653.00,97.67 L655.38,96.43 L657.75,95.20 L660.12,93.98 L662.50,92.77 L664.88,91.56 L667.25,90.37 L669.62,89.18 L672.00,88.00 L674.38,86.84 L676.75,85.68 L679.12,84.53 L681.50,83.40 L683.88,82.27 L686.25,81.15 L688.62,80.05 L691.00,78.96 L693.38,77.87 L695.75,76.80 L698.12,75.75 L700.50,74.70 L702.88,73.67 L705.25,72.65 L707.62,71.64 L710.00,70.64 L712.38,69.66 L714.75,68.69 L717.12,67.73 L719.50,66.79 L721.88,65.86 L724.25,64.95 L726.62,64.05 L729.00,63.17 L731.38,62.30 L733.75,61.44 L736.12,60.59 L738.50,59.76 L740.88,58.94 L743.25,58.13 L745.62,57.33 L748.00,56.54 L750.38,55.76 L752.75,54.99 L755.12,54.24 L757.50,53.49 L759.88,52.75 L762.25,52.02 L764.62,51.29 L767.00,50.58 L769.38,49.87 L771.75,49.16 L774.12,48.47 L776.50,47.78 L778.88,47.09 L781.25,46.41 L783.62,45.74 L786.00,45.07 L788.38,44.40 L790.75,43.75 L793.12,43.09 L795.50,42.45 L797.88,41.82 L800.25,41.19 L802.62,40.57 L805.00,39.95 L807.38,39.34 L809.75,38.74 L812.12,38.14 L814.50,37.56 L816.88,36.97 L819.25,36.40 L821.62,35.82 L824.00,35.26 L826.38,34.70 L828.75,34.15 L831.12,33.60 L833.50,33.05 L835.88,32.51 L838.25,31.97 L840.62,31.44 L843.00,30.91 L845.38,30.38 L847.75,29.85 L850.12,29.33 L852.50,28.81 L854.88,28.30 L857.25,27.80 L859.62,27.30 L862.00,26.81 L864.38,26.32 L866.75,25.85 L869.12,25.38 L871.50,24.93 L873.88,24.48 L876.25,24.04 L878.62,23.62 L881.00,23.20 L883.38,22.79 L885.75,22.39 L888.12,21.99 L890.50,21.60 L892.88,21.21 L895.25,20.83 L897.62,20.46 L900.00,20.09 L902.38,19.73 L904.75,19.37 L907.12,19.02 L909.50,18.67 L911.88,18.34 L914.25,18.01 L916.62,17.68 L919.00,17.37 L921.38,17.06 L923.75,16.76 L926.12,16.47 L928.50,16.19" stroke="#8AA2C4"/>
<path d="M73.50,476.84 L75.88,476.68 L78.25,476.51 L80.62,476.32 L83.00,476.13 L85.38,475.92 L87.75,475.71 L90.12,475.48 L92.50,475.25 L94.88,475.01 L97.25,474.76 L99.62,474.51 L102.00,474.24 L104.38,473.98 L106.75,473.70 L109.12,473.42 L111.50,473.13 L113.88,472.84 L116.25,472.55 L118.62,472.25 L121.00,471.94 L123.38,471.63 L125.75,471.30 L128.12,470.96 L130.50,470.61 L132.88,470.24 L135.25,469.86 L137.62,469.47 L140.00,469.06 L142.38,468.64 L144.75,468.22 L147.12,467.78 L149.50,467.33 L151.88,466.87 L154.25,466.41 L156.62,465.93 L159.00,465.45 L161.38,464.96 L163.75,464.45 L166.12,463.94 L168.50,463.41 L170.88,462.88 L173.25,462.33 L175.62,461.76 L178.00,461.19 L180.38,460.60 L182.75,459.99 L185.12,459.38 L187.50,458.74 L189.88,458.09 L192.25,457.42 L194.62,456.74 L197.00,456.03 L199.38,455.31 L201.75,454.57 L204.12,453.80 L206.50,452.99 L208.88,452.13 L211.25,451.22 L213.62,450.28 L216.00,449.31 L218.38,448.30 L220.75,447.27 L223.12,446.21 L225.50,445.13 L227.88,444.03 L230.25,442.91 L232.62,441.78 L235.00,440.64 L237.38,439.50 L239.75,438.35 L242.12,437.19 L244.50,436.01 L246.88,434.81 L249.25,433.58 L251.62,432.33 L254.00,431.05 L256.38,429.75 L258.75,428.42 L261.12,427.06 L263.50,425.67 L265.88,424.25 L268.25,422.80 L270.62,421.32 L273.00,419.79 L275.38,418.22 L277.75,416.60 L280.12,414.94 L282.50,413.23 L284.88,411.48 L287.25,409.68 L289.62,407.85 L292.00,405.97 L294.38,404.06 L296.75,402.12 L299.12,400.15 L301.50,398.15 L303.88,396.12 L306.25,394.06 L308.62,391.96 L311.00,389.84 L313.38,387.68 L315.75,385.49 L318.12,383.27 L320.50,381.02 L322.88,378.73 L325.25,376.41 L327.62,374.06 L330.00,371.68 L332.38,369.26 L334.75,366.81 L337.12,364.32 L339.50,361.80 L341.88,359.25 L344.25,356.66 L346.62,354.06 L349.00,351.38 L351.38,348.62 L353.75,345.79 L356.12,342.90 L358.50,339.94 L360.88,336.94 L363.25,333.90 L365.62,330.82 L368.00,327.71 L370.38,324.57 L372.75,321.43 L375.12,318.27 L377.50,315.11 L379.88,311.95 L382.25,308.81 L384.62,305.62 L387.00,302.40 L389.38,299.14 L391.75,295.82 L394.12,292.42 L396.50,288.92 L398.88,285.31 L401.25,281.61 L403.62,277.82 L406.00,273.94 L408.38,269.99 L410.75,268.12 L413.12,266.25 L415.50,264.38 L417.88,262.51 L420.25,260.63 L422.62,258.75 L425.00,256.86 L427.38,254.96 L429.75,253.06 L432.12,251.15 L434.50,249.24 L436.88,247.33 L439.25,245.41 L441.62,243.49 L444.00,241.57 L446.38,239.65 L448.75,237.73 L451.12,235.81 L453.50,233.89 L455.88,231.97 L458.25,230.06 L460.62,228.15 L463.00,226.24 L465.38,224.34 L467.75,222.45 L470.12,220.56 L472.50,218.68 L474.88,216.80 L477.25,214.94 L479.62,213.08 L482.00,211.24 L484.38,209.40 L486.75,207.56 L489.12,205.73 L491.50,203.89 L493.88,202.06 L496.25,200.23 L498.62,198.41 L501.00,196.58 L503.38,194.76 L505.75,192.95 L508.12,191.14 L510.50,189.33 L512.88,187.53 L515.25,185.73 L517.62,183.95 L520.00,182.17 L522.38,180.39 L524.75,178.63 L527.12,176.87 L529.50,175.12 L531.88,173.38 L534.25,171.65 L536.62,169.93 L539.00,168.22 L541.38,166.52 L543.75,164.84 L546.12,163.16 L548.50,161.50 L550.88,159.88 L553.25,158.26 L555.62,156.64 L558.00,155.02 L560.38,153.41 L562.75,151.79 L565.12,150.18 L567.50,148.58 L569.88,146.98 L572.25,145.39 L574.62,143.80 L577.00,142.22 L579.38,140.65 L581.75,139.09 L584.12,137.53 L586.50,135.99 L588.88,134.45 L591.25,132.93 L593.62,131.42 L596.00,129.92 L598.38,128.43 L600.75,126.96 L603.12,125.50 L605.50,124.05 L607.88,122.63 L610.25,121.21 L612.62,119.82 L615.00,118.44 L617.38,117.08 L619.75,115.74 L622.12,114.41 L624.50,113.10 L626.88,111.78 L629.25,110.47 L631.62,109.16 L634.00,107.85 L636.38,106.56 L638.75,105.27 L641.12,103.98 L643.50,102.71 L645.88,101.44 L648.25,100.17 L650.62,98.92 L653.00,97.67 L655.38,96.43 L657.75,95.20 L660.12,93.98 L662.50,92.77 L664.88,91.56 L667.25,90.37 L669.62,89.18 L672.00,88.00 L674.38,86.84 L676.75,85.68 L679.12,84.53 L681.50,83.40 L683.88,82.27 L686.25,81.15 L688.62,80.05 L691.00,78.96 L693.38,77.87 L695.75,76.80 L698.12,75.75 L700.50,74.70 L702.88,73.67 L705.25,72.65 L707.62,71.64 L710.00,70.64 L712.38,69.66 L714.75,68.69 L717.12,67.73 L719.50,66.79 L721.88,65.86 L724.25,64.95 L726.62,64.05 L729.00,63.17 L731.38,62.30 L733.75,61.44 L736.12,60.59 L738.50,59.76 L740.88,58.94 L743.25,58.13 L745.62,57.33 L748.00,56.54 L750.38,55.76 L752.75,54.99 L755.12,54.24 L757.50,53.49 L759.88,52.75 L762.25,52.02 L764.62,51.29 L767.00,50.58 L769.38,49.87 L771.75,49.16 L774.12,48.47 L776.50,47.78 L778.88,47.09 L781.25,46.41 L783.62,45.74 L786.00,45.07 L788.38,44.40 L790.75,43.75 L793.12,43.09 L795.50,42.45 L797.88,41.82 L800.25,41.19 L802.62,40.57 L805.00,39.95 L807.38,39.34 L809.75,38.74 L812.12,38.14 L814.50,37.56 L816.88,36.97 L819.25,36.40 L821.62,35.82 L824.00,35.26 L826.38,34.70 L828.75,34.15 L831.12,33.60 L833.50,33.05 L835.88,32.51 L838.25,31.97 L840.62,31.44 L843.00,30.91 L845.38,30.38 L847.75,29.85 L850.12,29.33 L852.50,28.81 L854.88,28.30 L857.25,27.80 L859.62,27.30 L862.00,26.81 L864.38,26.32 L866.75,25.85 L869.12,25.38 L871.50,24.93 L873.88,24.48 L876.25,24.04 L878.62,23.62 L881.00,23.20 L883.38,22.79 L885.75,22.39 L888.12,21.99 L890.50,21.60 L892.88,21.21 L895.25,20.83 L897.62,20.46 L900.00,20.09 L902.38,19.73 L904.75,19.37 L907.12,19.02 L909.50,18.67 L911.88,18.34 L914.25,18.01 L916.62,17.68 L919.00,17.37 L921.38,17.06 L923.75,16.76 L926.12,16.47 L928.50,16.19" stroke="#B5C1DA"/>
</g>
<g stroke-width="3" stroke-linecap="round"><line x1="960.5" y1="234.50" x2="986.8" y2="234.50" stroke="#375A87"/><line x1="960.5" y1="258.50" x2="986.8" y2="258.50" stroke="#40669A"/><line x1="960.5" y1="282.50" x2="986.8" y2="282.50" stroke="#4977AE"/><line x1="960.5" y1="307.50" x2="986.8" y2="307.50" stroke="#8AA2C4"/><line x1="960.5" y1="331.50" x2="986.8" y2="331.50" stroke="#B5C1DA"/></g>
</svg>
<div class="yl" style="top:497.0px;width:61px">0,0</div><div class="yl" style="top:448.0px;width:61px">5,0</div><div class="yl" style="top:399.0px">10,0</div><div class="yl" style="top:350.0px">15,0</div><div class="yl" style="top:302.0px">20,0</div><div class="yl" style="top:253.0px">25,0</div><div class="yl" style="top:204.0px">30,0</div><div class="yl" style="top:155.0px">35,0</div><div class="yl" style="top:107.0px">40,0</div><div class="yl" style="top:58.0px">45,0</div><div class="yl" style="top:9.0px">50,0</div>
<div class="xl" style="left:45.0px">0</div><div class="xl" style="left:92.5px">20</div><div class="xl" style="left:140.0px">40</div><div class="xl" style="left:187.5px">60</div><div class="xl" style="left:235.0px">80</div><div class="xl" style="left:282.5px">100</div><div class="xl" style="left:330.0px">120</div><div class="xl" style="left:377.5px">140</div><div class="xl" style="left:425.0px">160</div><div class="xl" style="left:472.5px">180</div><div class="xl" style="left:520.0px">200</div><div class="xl" style="left:567.5px">220</div><div class="xl" style="left:615.0px">240</div><div class="xl" style="left:662.5px">260</div><div class="xl" style="left:710.0px">280</div><div class="xl" style="left:757.5px">300</div><div class="xl" style="left:805.0px">320</div><div class="xl" style="left:852.5px">340</div><div class="xl" style="left:900.0px">360</div>
<div class="lg" style="top:228.00px">Nuvarande</div><div class="lg" style="top:252.00px">ny 2016</div><div class="lg" style="top:276.00px">ny 2017</div><div class="lg" style="top:300.00px">ny 2018</div><div class="lg" style="top:324.00px">ny 2019</div>
<div class="xt">Bilens specifika  koldioxidutsläpp  gram / kilometer</div>
<div class="yt" style="transform:rotate(-90deg) translate(-27px,0)">Skattesats</div>
</body></html>
